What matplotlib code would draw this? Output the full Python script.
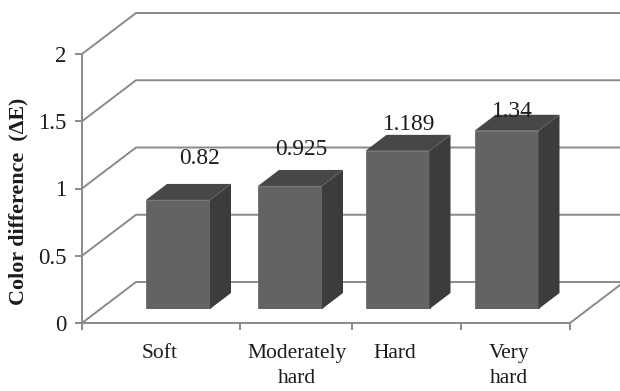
from matplotlib import pyplot as plt

plt.rcParams['font.family'] = ['Liberation Serif', 'DejaVu Serif']

# data
categories = ["Soft", "Moderately\nhard", "Hard", "Very\nhard"]
values = [0.82, 0.925, 1.189, 1.34]
value_labels = ["0.82", "0.925", "1.189", "1.34"]
y_ticks = [0, 0.5, 1, 1.5, 2]
y_tick_labels = ["0", "0.5", "1", "1.5", "2"]

# x is in picture pixels, the chart has irregular spacing
bar_x = [178, 290, 397.5, 506.5]
tick_x = [82, 240, 352, 461, 570]
cat_x = [160, 297, 395, 509]
label_dx = [22, 11, 12, 6]
label_dy = [41, 36, 26, 19]

W, H = 620, 391
line_col = "#8a8a8a"
text_col = "#1c1c1c"

fig = plt.figure(figsize=(W / 100, H / 100), dpi=100)

# walls and axes
ax = fig.add_axes([82 / W, (H - 323) / H, 488 / W, 269 / H])
ax.set_xlim(82, 570)
ax.set_ylim(0, 2)
wall_dx = 54
wall_dy = 41 / 134.5
for t in y_ticks:
    ax.plot([82, 82 + wall_dx, 620], [t, t + wall_dy, t + wall_dy],
            color=line_col, lw=1.4, clip_on=False, zorder=1)
ax.plot([570, 620], [0, 38 / 134.5], color=line_col, lw=1.4, clip_on=False, zorder=1)

for s in ["top", "right"]:
    ax.spines[s].set_visible(False)
for s in ["left", "bottom"]:
    ax.spines[s].set_color(line_col)
    ax.spines[s].set_linewidth(1.4)
ax.set_yticks(y_ticks)
ax.set_yticklabels(y_tick_labels, fontsize=16.5, color=text_col)
ax.set_xticks(tick_x)
ax.set_xticklabels([])
ax.tick_params(axis="both", color=line_col, width=1.4, length=5)
ax.tick_params(axis="y", pad=6)

for x, c in zip(cat_x, categories):
    ax.annotate(c, xy=(x, 0), xytext=(0, -21), xycoords="data", textcoords="offset pixels",
                ha="center", va="top", fontsize=15.5, color=text_col, linespacing=1.45,
                annotation_clip=False)

fig.text(18 / W, (H - 201) / H, "Color difference  (ΔE)", rotation=90, ha="center", va="center",
         fontsize=15.8, fontweight="bold", color=text_col)

# bars
bx = fig.add_axes([82 / W, (H - 309) / H, 488 / W, 266 / H])
bx.set_xlim(82, 570)
bx.set_ylim(0, 2)
bx.axis("off")
bx.patch.set_alpha(0)

bar_w = 64
dx = 21
dy = 16 / 133
for x, v in zip(bar_x, values):
    l = x - bar_w / 2
    r = x + bar_w / 2
    bx.bar(x, v, width=bar_w, color="#636363", edgecolor="#6e6e6e", lw=0.6, zorder=3)
    bx.fill([r, r + dx, r + dx, r], [0, dy, v + dy, v], color="#3c3c3c", lw=0, zorder=3)
    bx.fill([l, l + dx, r + dx, r], [v, v + dy, v + dy, v], color="#474747", lw=0, zorder=3)

for x, v, s, ox, oy in zip(bar_x, values, value_labels, label_dx, label_dy):
    bx.annotate(s, xy=(x, v), xytext=(ox, oy), textcoords="offset pixels", ha="center", va="center",
                fontsize=16.8, color=text_col, zorder=5)

fig.savefig("out.png", dpi=100)
